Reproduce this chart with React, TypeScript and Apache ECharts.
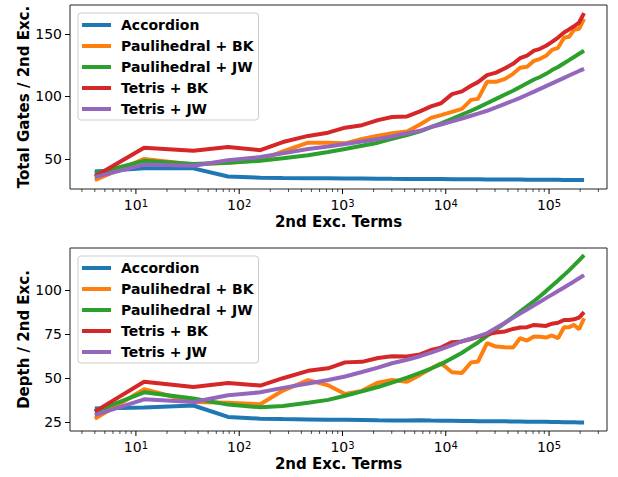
import React, { useEffect, useRef } from "react";
import * as echarts from "echarts";

const seriesNames = ["Accordion", "Paulihedral + BK", "Paulihedral + JW", "Tetris + BK", "Tetris + JW"];
const colors = ["#1f77b4", "#ff7f0e", "#2ca02c", "#d62728", "#9467bd"];

const terms = [4, 12, 36, 78, 160, 265, 465, 725, 1060, 1545, 2205, 3015, 4215, 5630, 7200, 9000, 11500, 14370, 17560, 20520, 25090, 30670, 37490, 44800, 52380, 61230, 71560, 81800, 93500, 106900, 122200, 139700, 156200, 174600, 195300, 218300];

const gatesAccordion = [40, 42.5, 42.5, 36, 35, 34.8, 34.6, 34.5, 34.4, 34.3, 34.2, 34.1, 34.0, 34.0, 33.9, 33.9, 33.8, 33.8, 33.7, 33.7, 33.6, 33.6, 33.5, 33.5, 33.5, 33.4, 33.4, 33.4, 33.3, 33.3, 33.3, 33.2, 33.2, 33.2, 33.1, 33.1];
const gatesPauliBK = [33, 50, 45.5, 47, 49, 56, 63, 63, 62.5, 66, 68.5, 70.5, 72, 77.5, 82.8, 85, 87.6, 90, 97.2, 98, 111.6, 111.6, 114, 118, 122.8, 123.6, 128.4, 130, 132.4, 137.2, 138.8, 146.8, 147.6, 153.2, 154, 162];
const gatesPauliJW = [38.5, 48.5, 46, 47, 48.5, 50.5, 53, 55.5, 58, 60.5, 63, 66, 69, 72, 75.5, 78.5, 82, 85.5, 88.5, 91, 94.5, 98, 101.5, 104.5, 107.5, 110.5, 113.5, 115.5, 118, 121, 123.5, 126.5, 129, 131.5, 134, 136.5];
const gatesTetrisBK = [36, 59, 56.6, 59.5, 57, 63.5, 68.4, 71, 75, 77, 81, 83.5, 84, 88, 92, 94.5, 101.8, 104, 108.5, 111.4, 117, 119, 122.5, 126, 130.5, 132.6, 136.5, 138, 140.5, 143.5, 147, 151, 153.5, 156, 159, 166.5];
const gatesTetrisJW = [35.5, 45.5, 44.5, 49, 51.5, 54.5, 58, 60, 62, 64, 66, 68, 70.5, 72.5, 75.5, 77.5, 80, 82.3, 84.5, 86.2, 88.5, 91.2, 94, 96.5, 98.8, 101.3, 103.8, 106, 108.2, 110.4, 112.6, 114.8, 116.7, 118.5, 120.3, 122];

const depthAccordion = [32.8, 33.3, 34.5, 28, 27, 26.8, 26.6, 26.4, 26.4, 26.3, 26.1, 26, 25.9, 26.1, 25.9, 25.8, 25.8, 25.7, 25.7, 25.6, 25.6, 25.5, 25.5, 25.4, 25.4, 25.3, 25.3, 25.2, 25.2, 25.1, 25.1, 25.0, 25.0, 25.0, 24.9, 24.9];
const depthPauliBK = [27, 43.7, 36.5, 36, 35.2, 43, 48.9, 46, 41, 42.8, 47.5, 49, 48, 51.9, 55.5, 58.5, 53.4, 53, 58.9, 59.5, 69.9, 68, 67.6, 67.4, 72.7, 71.4, 73.7, 73.5, 73.1, 74.3, 72.7, 79, 79, 80.3, 77.8, 84.1];
const depthPauliJW = [31, 42, 38.5, 35, 33.5, 34.2, 36, 37.7, 40, 42.5, 45, 47.5, 50.3, 53, 55.5, 58, 61.3, 64.5, 67.8, 70.3, 74, 77.7, 81.4, 84.8, 87.8, 90.8, 93.9, 96.6, 99.5, 102.5, 105.5, 108.6, 111.3, 114.1, 117, 120];
const depthTetrisBK = [31, 48, 45, 47.3, 45.8, 50, 54.2, 55.6, 59, 59.3, 61.5, 62.5, 62.3, 63.5, 66, 67.4, 70.5, 70.9, 72.3, 73.5, 75, 76, 76.6, 78, 78.8, 79, 80.3, 80, 79.7, 81, 81.5, 83.1, 83.1, 83.5, 84.5, 87.5];
const depthTetrisJW = [29, 38, 36.5, 40.3, 42, 44.5, 47, 49, 51, 53.5, 56, 58.5, 60.5, 62.5, 64.5, 66.5, 68.8, 71, 72.5, 73.8, 75.5, 78.5, 81.5, 84.3, 86.7, 89, 91.4, 93.4, 95.5, 97.5, 99.6, 101.6, 103.3, 105, 106.8, 108.6];

const gatesTicks = [50, 100, 150];
const depthTicks = [25, 50, 75, 100];
const xMajorTicks = [10, 100, 1000, 10000, 100000];
const xMinorTicks = [3, 4, 5, 6, 7, 8, 9, 20, 30, 40, 50, 60, 70, 80, 90, 200, 300, 400, 500, 600, 700, 800, 900, 2000, 3000, 4000, 5000, 6000, 7000, 8000, 9000, 20000, 30000, 40000, 50000, 60000, 70000, 80000, 90000, 200000, 300000];

const X_MIN = 2.3;
const X_MAX = 364000;
const GATES_RANGE = [26, 173];
const DEPTH_RANGE = [20, 124];

const FONT = "DejaVu Sans";

export default function App() {
  const ref = useRef<HTMLDivElement>(null);
  useEffect(() => {
    if (!ref.current) return;
    const chart = echarts.init(ref.current, undefined, { renderer: "svg" });
    const gatesData = [gatesAccordion, gatesPauliBK, gatesPauliJW, gatesTetrisBK, gatesTetrisJW];
    const depthData = [depthAccordion, depthPauliBK, depthPauliJW, depthTetrisBK, depthTetrisJW];
    const panels = [
      { data: gatesData, range: GATES_RANGE, ticks: gatesTicks, name: "Total Gates / 2nd Exc." },
      { data: depthData, range: DEPTH_RANGE, ticks: depthTicks, name: "Depth / 2nd Exc." },
    ];
    const grids = [
      { left: 70, top: 5, width: 537, height: 184 },
      { left: 70, top: 248, width: 537, height: 183 },
    ];
    const xAxes: any[] = [];
    const yAxes: any[] = [];
    const series: any[] = [];
    panels.forEach((p, gi) => {
      xAxes.push({
        type: "log",
        logBase: 10,
        gridIndex: gi,
        min: X_MIN,
        max: X_MAX,
        axisLine: { show: false },
        axisTick: { show: false },
        splitLine: { show: false },
        axisLabel: {
          showMinLabel: false,
          showMaxLabel: false,
          margin: 9,
          color: "#000",
          formatter: (v: number) => {
            const e = Math.log10(v);
            if (Math.abs(e - Math.round(e)) > 1e-6) return "";
            return "{b|10}{s|" + Math.round(e) + "}";
          },
          rich: {
            b: { fontSize: 14, fontFamily: FONT, color: "#000", lineHeight: 14, verticalAlign: "bottom" },
            s: { fontSize: 10, fontFamily: FONT, color: "#000", lineHeight: 8, verticalAlign: "top" },
          },
        },
        name: "2nd Exc. Terms",
        nameLocation: "middle",
        nameGap: 25.5,
        nameMoveOverlap: false,
        nameTextStyle: { fontSize: 15, fontWeight: "bold", color: "#000", fontFamily: FONT, lineHeight: 15 },
      });
      yAxes.push({
        type: "value",
        gridIndex: gi,
        min: p.range[0],
        max: p.range[1],
        axisLine: { show: false },
        splitLine: { show: false },
        axisTick: { show: true, length: 5, customValues: p.ticks, lineStyle: { color: "#000", width: 1 } },
        axisLabel: { customValues: p.ticks, fontSize: 14, color: "#000", fontFamily: FONT, margin: 8 },
        name: p.name,
        nameLocation: "middle",
        nameGap: 39,
        nameMoveOverlap: false,
        nameTextStyle: { fontSize: 15, fontWeight: "bold", color: "#000", fontFamily: FONT, lineHeight: 15 },
      });
      p.data.forEach((vals, si) => {
        series.push({
          type: "line",
          name: seriesNames[si],
          xAxisIndex: gi,
          yAxisIndex: gi,
          data: terms.map((t, i) => [t, vals[i]]),
          showSymbol: false,
          symbol: "none",
          lineStyle: { width: 4, color: colors[si] },
          itemStyle: { color: colors[si] },
          emphasis: { disabled: true },
          z: 2 + si,
        });
      });
      const yMin = p.range[0];
      series.push({
        type: "custom",
        name: "xticks" + gi,
        xAxisIndex: gi,
        yAxisIndex: gi,
        silent: true,
        clip: false,
        z: 10,
        data: [...xMajorTicks, ...xMinorTicks].map((v) => [v, yMin]),
        renderItem: (params: any, api: any) => {
          const v = api.value(0);
          const e = Math.log10(v);
          const major = Math.abs(e - Math.round(e)) < 1e-6;
          const pt = api.coord([v, yMin]);
          return {
            type: "line",
            shape: { x1: pt[0], y1: pt[1], x2: pt[0], y2: pt[1] + (major ? 5 : 3) },
            style: { stroke: "#000", lineWidth: major ? 1 : 0.7 },
          };
        },
      });
    });
    const legendBase = {
      orient: "vertical",
      left: 78,
      data: seriesNames,
      icon: "rect",
      itemWidth: 29,
      itemHeight: 4,
      itemGap: 5,
      selectedMode: false,
      textStyle: { fontSize: 14, fontWeight: "bold", color: "#000", fontFamily: FONT, lineHeight: 16, padding: [0, 0, 0, 5] },
      borderColor: "#cccccc",
      borderWidth: 1,
      borderRadius: 3,
      backgroundColor: "rgba(255,255,255,0.8)",
      padding: [4, 5, 3, 4],
    };
    chart.setOption({
      animation: false,
      textStyle: { fontFamily: FONT },
      grid: grids.map((g) => ({ ...g, show: true, borderColor: "#222", borderWidth: 1, backgroundColor: "transparent" })),
      xAxis: xAxes,
      yAxis: yAxes,
      legend: [
        { ...legendBase, top: 13 },
        { ...legendBase, top: 256 },
      ],
      series,
    });
    return () => chart.dispose();
  }, []);
  return <div ref={ref} style={{ position: "fixed", left: 0, top: 0, width: 618, height: 477, background: "#fff" }} />;
}
